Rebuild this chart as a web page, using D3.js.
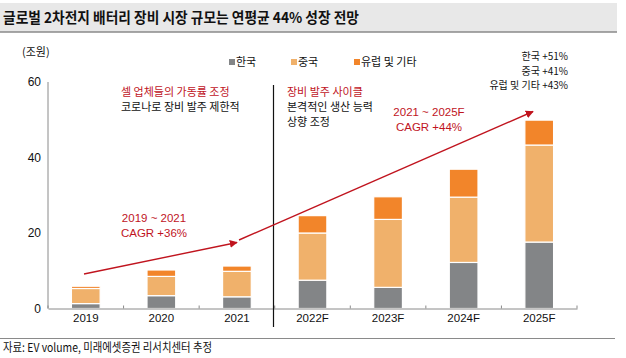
<!DOCTYPE html>
<html><head><meta charset="utf-8">
<script src="https://cdn.jsdelivr.net/npm/d3@7"></script>
<style>
html,body{margin:0;padding:0;background:#fff;}
svg text{font-family:"Liberation Sans",Arial,"Noto Sans CJK KR",sans-serif;}
.kr{font-family:"Noto Sans CJK KR","Liberation Sans",sans-serif;}
</style></head>
<body>
<svg id="c" width="626" height="358"></svg>
<script>
const categories = ["2019","2020","2021","2022F","2023F","2024F","2025F"];
const seriesNames = ["한국","중국","유럽 및 기타"];
const korea  = [1.3, 3.4, 3.1, 7.5, 5.6, 12.2, 17.6];
const china  = [4.0, 5.1, 6.75, 12.5, 18.0, 17.3, 25.7];
const europe = [0.6, 1.7, 1.4, 4.6, 6.0, 7.4, 6.6];
const yTicks = [0, 20, 40, 60];
const colors = ["#838587", "#F0B16B", "#F2852A"];

const svg = d3.select("#c");
const red = "#C0141E";

svg.append("rect").attr("x",0).attr("y",3).attr("width",617).attr("height",29).attr("fill","#E8E8E8");
svg.append("line").attr("x1",0).attr("x2",617).attr("y1",32).attr("y2",32).attr("stroke","#8a8a8a").attr("stroke-width",1.5);
svg.append("text").attr("class","kr").attr("x",3).attr("y",23).attr("font-size",15).attr("font-weight","bold")
  .attr("fill","#111").attr("textLength",356).attr("lengthAdjust","spacingAndGlyphs")
  .text("글로벌 2차전지 배터리 장비 시장 규모는 연평균 44% 성장 전망");

const x = d3.scaleBand().domain(categories).range([48, 577]).paddingInner(0.62).paddingOuter(0.31);
const y = d3.scaleLinear().domain([0, 60]).range([308.5, 82]);

const data = categories.map((c,i)=>({cat:c, "한국":korea[i], "중국":china[i], "유럽 및 기타":europe[i]}));
const stack = d3.stack().keys(seriesNames)(data);

const g = svg.append("g");
stack.forEach((s, si) => {
  g.selectAll(null).data(s).enter().append("rect")
    .attr("x", d => x(d.data.cat))
    .attr("width", x.bandwidth())
    .attr("y", d => y(d[1]))
    .attr("height", d => y(d[0]) - y(d[1]))
    .attr("fill", colors[si])
    .attr("stroke", "#fff").attr("stroke-width", 1.2);
});

const xAxis = d3.axisBottom(x).tickSize(0).tickSizeOuter(0);
const xg = svg.append("g").attr("transform", `translate(0,${y(0)})`).call(xAxis);
xg.select(".domain").attr("stroke","#8a8a8a");
xg.selectAll("text").attr("font-size",11.5).attr("fill","#111").attr("dy","0.95em").attr("font-family","Liberation Sans, Arial");
const step = x.step();
const xs = d3.range(categories.length+1).map(k => 48 + k*step);
svg.selectAll(null).data(xs).enter().append("line")
  .attr("x1",d=>d).attr("x2",d=>d).attr("y1",y(0)).attr("y2",y(0)-3).attr("stroke","#8a8a8a");
svg.append("line").attr("x1",48).attr("x2",48).attr("y1",y(60)).attr("y2",y(0)).attr("stroke","#8a8a8a");

const yg = svg.append("g").attr("transform","translate(48,0)").call(d3.axisLeft(y).tickValues(yTicks).tickSize(0));
yg.select(".domain").remove();
yg.selectAll("text").attr("font-size",12).attr("fill","#111").attr("x",-7).attr("dy","0.3em").attr("font-family","Liberation Sans, Arial");

svg.append("text").attr("class","kr").attr("x",22).attr("y",56).attr("font-size",11).attr("fill","#111").text("(조원)");

svg.append("line").attr("x1",273.5).attr("x2",273.5).attr("y1",85).attr("y2",327).attr("stroke","#111").attr("stroke-width",1.2);

const legX = [229, 291, 354];
seriesNames.forEach((n,i)=>{
  svg.append("rect").attr("x",legX[i]).attr("y",59).attr("width",6).attr("height",6).attr("fill",colors[i]);
  svg.append("text").attr("class","kr").attr("x",legX[i]+7).attr("y",65.5).attr("font-size",11).attr("fill","#111").text(n);
});

function txt(xp, yp, s, col, anchor, fs){
  svg.append("text").attr("class","kr").attr("x",xp).attr("y",yp).attr("font-size",fs||11)
    .attr("fill",col).attr("text-anchor",anchor||"start").text(s);
}
txt(121, 96, "셀 업체들의 가동률 조정", red);
txt(121, 111, "코로나로 장비 발주 제한적", "#111");
txt(287, 96, "장비 발주 사이클", red);
txt(287, 111, "본격적인 생산 능력", "#111");
txt(287, 126, "상향 조정", "#111");
txt(568, 60, "한국 +51%", "#111", "end", 10);
txt(568, 74.5, "중국 +41%", "#111", "end", 10);
txt(568, 89, "유럽 및 기타 +43%", "#111", "end", 10);

function ltxt(xp, yp, s){
  svg.append("text").attr("x",xp).attr("y",yp).attr("font-size",11.5).attr("fill",red)
    .attr("text-anchor","middle").attr("font-family","Liberation Sans, Arial").text(s);
}
ltxt(154, 222, "2019 ~ 2021");
ltxt(154, 237, "CAGR +36%");
ltxt(429, 116, "2021 ~ 2025F");
ltxt(429, 131, "CAGR +44%");

const defs = svg.append("defs");
defs.append("marker").attr("id","ah").attr("viewBox","0 0 10 10").attr("refX",9).attr("refY",5)
  .attr("markerWidth",8).attr("markerHeight",8).attr("orient","auto").attr("markerUnits","userSpaceOnUse")
  .append("path").attr("d","M0,0 L10,5 L0,10 z").attr("fill",red);
svg.append("line").attr("x1",84).attr("y1",274).attr("x2",237).attr("y2",242.5)
  .attr("stroke",red).attr("stroke-width",1.4).attr("marker-end","url(#ah)");
svg.append("line").attr("x1",239).attr("y1",240).attr("x2",533).attr("y2",111.5)
  .attr("stroke",red).attr("stroke-width",1.4).attr("marker-end","url(#ah)");

svg.append("line").attr("x1",0).attr("x2",615).attr("y1",338.5).attr("y2",338.5).attr("stroke","#8a8a8a").attr("stroke-width",1.2);
svg.append("text").attr("class","kr").attr("x",3).attr("y",352).attr("font-size",12).attr("fill","#111")
  .attr("textLength",209).attr("lengthAdjust","spacingAndGlyphs").text("자료: EV volume, 미래에셋증권 리서치센터 추정");
</script>
</body></html>
